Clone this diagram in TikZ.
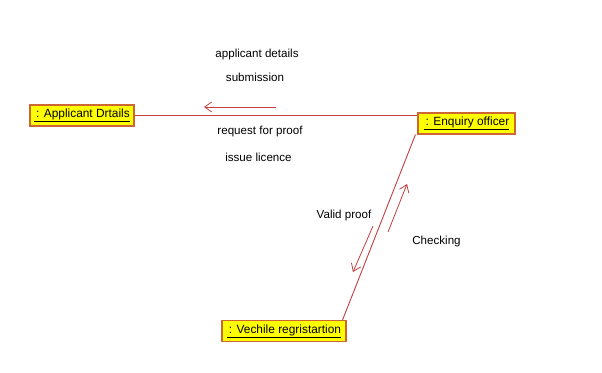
\documentclass[tikz,border=0pt]{standalone}
\usepackage{fontspec}
\setmainfont{Liberation Sans}
\usetikzlibrary{arrows.meta}
\definecolor{linkred}{RGB}{196,62,62}
\definecolor{boxedge}{RGB}{204,102,51}
\definecolor{boxfill}{RGB}{255,255,0}
\tikzset{
  x=1pt, y=-1pt,
  objbox/.style={draw=boxedge, line width=1.1pt, fill=boxfill, inner sep=0pt,
    minimum height=21pt, font=\fontsize{11.9}{13}\selectfont},
  link/.style={draw=linkred, line width=0.9pt},
  msg/.style={draw=linkred, line width=0.8pt, -{Straight Barb[length=7pt,width=10pt]}},
  msgtext/.style={font=\fontsize{11.6}{13}\selectfont, inner sep=0pt}
}
\begin{document}
\begin{tikzpicture}
\useasboundingbox (0,0) rectangle (602,372);

% objects
\node[objbox, minimum width=104pt] (app) at (82,115.5) {\underline{\,: Applicant Drtails}};
\node[objbox, minimum width=97pt] (enq) at (466.5,123.5) {\underline{\,: Enquiry officer}};
\node[objbox, minimum width=124pt] (veh) at (284,331) {\underline{\,: Vechile regristartion}};

% links
\draw[link] (app.east) -- (app.east -| enq.west);
\draw[link] ([xshift=-2pt]enq.south west) -- ([xshift=-4pt]veh.north east);

% message arrows
\coordinate (m1s) at (276,107);
\coordinate (m1e) at (204,107);
\draw[msg] (m1s) -- (m1e);
\coordinate (m2s) at (373,226);
\coordinate (m2e) at (353,272);
\draw[msg] (m2s) -- (m2e);
\coordinate (m3s) at (388,232);
\coordinate (m3e) at (407,184);
\draw[msg] (m3s) -- (m3e);

% message labels
\node[msgtext] (t1) at (257,55) {applicant details};
\node[msgtext] (t2) at (255,77.5) {submission};
\node[msgtext] (t3) at (260,132) {request for proof};
\node[msgtext] (t4) at (258.5,157) {issue licence};
\node[msgtext] (t5) at (344,215) {Valid proof};
\node[msgtext] (t6) at (436.5,241) {Checking};
\end{tikzpicture}
\end{document}
